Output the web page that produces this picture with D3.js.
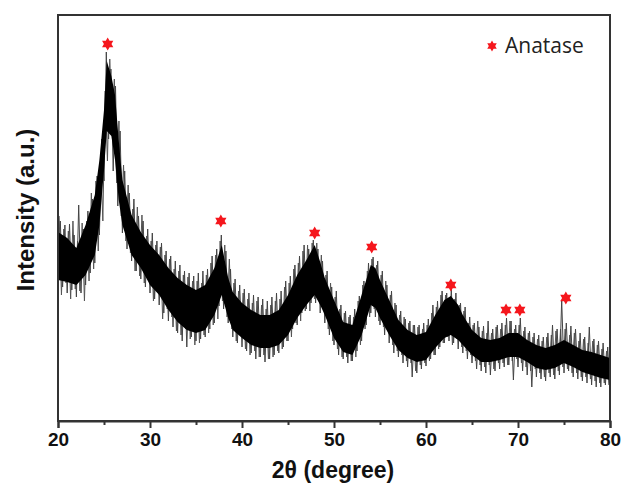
<!DOCTYPE html>
<html>
<head>
<meta charset="utf-8">
<script src="https://cdn.jsdelivr.net/npm/d3@7"></script>
<style>
    body { margin: 0; background: #fff; }
    svg text { font-family: "Liberation Sans", Arial, sans-serif; }
</style>
</head>
<body>
<div id="xrd-chart"></div>
<script>
// Dense core of the noisy trace: 2theta, upper and lower edge (a.u.)
const core_theta = [20, 21, 22, 23, 24, 24.5, 25, 25.3, 25.8, 26.2, 26.6, 27, 28, 29, 30, 31, 32, 33, 34, 35,
    36, 37, 37.8, 38.5, 39, 40, 41, 42, 43, 44, 45, 46, 47, 47.9, 48.5, 49, 50, 51, 52, 53,
    54, 54.5, 55, 56, 57, 58, 59, 60, 61, 62, 62.7, 63.5, 64, 65, 66, 67, 68, 69, 70, 71,
    72, 73, 74, 75, 76, 77, 78, 79, 80];
const core_high = [189, 183, 173, 196, 226, 261, 311, 360, 345, 326, 281, 241, 206, 189, 176, 166, 153, 143, 136, 131,
    136, 153, 176, 143, 129, 118, 111, 106, 106, 111, 126, 146, 161, 176, 159, 143, 121, 99, 96, 126,
    156, 153, 141, 121, 101, 91, 86, 89, 106, 121, 125, 116, 106, 91, 83, 81, 83, 88, 88, 81,
    76, 73, 76, 81, 76, 71, 69, 66, 63];
const core_low = [141, 139, 136, 146, 166, 196, 251, 290, 285, 261, 221, 196, 166, 153, 136, 126, 111, 99, 91, 88,
    91, 106, 126, 103, 91, 83, 76, 73, 73, 76, 86, 103, 116, 126, 116, 106, 83, 69, 66, 86,
    116, 113, 103, 86, 71, 63, 59, 61, 73, 83, 86, 81, 76, 66, 59, 59, 61, 64, 64, 59,
    53, 51, 53, 58, 54, 49, 46, 43, 41];

// Spike extremes every 0.25 degree from 20 to 80 (low, high, low, high per degree)
const spike_start = 20, spike_step = 0.25;
const spike_values = [
    130, 200, 134, 196,  128, 197, 131, 186,  124, 216, 128, 192,  136, 210, 148, 222,  158, 245, 186, 282,
    240, 369, 282, 352,  250, 335, 215, 290,  188, 250, 172, 228,  160, 222, 150, 205,  142, 200, 134, 192,
    128, 188, 122, 180,  116, 178, 108, 170,  100, 165, 94, 160,   88, 156, 80, 150,    74, 148, 84, 145,
    80, 148, 82, 150,    84, 152, 92, 165,    98, 172, 115, 186,   112, 170, 98, 152,   84, 142, 78, 136,
    74, 132, 70, 128,    68, 126, 62, 124,    64, 122, 59, 120,    62, 124, 66, 128,    68, 130, 74, 140,
    80, 145, 92, 156,    96, 165, 108, 176,   112, 172, 118, 181,  118, 172, 108, 160,  98, 150, 86, 134,
    76, 130, 66, 116,    62, 110, 58, 106,    60, 112, 70, 125,    80, 140, 96, 158,    108, 164, 104, 160,
    96, 150, 86, 136,    78, 130, 68, 116,    64, 110, 58, 102,    54, 100, 44, 96,     48, 96, 52, 98,
    55, 102, 62, 116,    66, 120, 74, 130,    78, 128, 80, 132,    78, 128, 72, 118,    68, 114, 62, 104,
    58, 98, 52, 94,      50, 95, 48, 100,     46, 92, 50, 96,      52, 98, 54, 103,     56, 100, 41, 96,
    54, 103, 50, 94,     46, 90, 34, 88,      44, 86, 42, 84,      40, 88, 44, 96,      42, 92, 46, 121,
    48, 98, 50, 95,      44, 92, 42, 88,      40, 84, 38, 94,      36, 82, 34, 80,      34, 78, 36, 74,
    34
];

// Second set of spikes, read between the first ones (from 20.125, high, low, high, low per degree)
const spike_b_start = 20.125;
const spike_b_values = [
    205, 126, 192, 138,  190, 122, 200, 132,  180, 130, 198, 120,  200, 140, 228, 152,  240, 170, 266, 200,
    330, 260, 362, 300,  342, 238, 300, 205,  256, 180, 236, 168,  212, 150, 214, 145,  206, 138, 185, 140,
    180, 120, 176, 130,  174, 102, 166, 112,  162, 104, 152, 90,   150, 86, 146, 92,    144, 82, 140, 76,
    140, 78, 138, 86,    146, 88, 158, 96,    166, 102, 180, 120,  176, 104, 162, 92,   138, 80, 130, 86,
    128, 72, 122, 66,    118, 70, 120, 64,    116, 66, 112, 62,    116, 64, 120, 70,    122, 72, 134, 80,
    138, 84, 152, 98,    158, 100, 170, 110,  176, 110, 178, 122,  178, 122, 166, 110,  146, 92, 138, 80,
    124, 72, 112, 64,    108, 64, 104, 60,    104, 64, 120, 76,    136, 92, 150, 104,   162, 112, 156, 100,
    146, 94, 140, 90,    126, 76, 118, 70,    106, 66, 104, 60,    98, 58, 96, 50,      94, 56, 92, 58,
    96, 60, 108, 66,     114, 72, 126, 78,    126, 84, 124, 76,    122, 82, 116, 74,    110, 70, 98, 66,
    96, 60, 100, 56,     90, 54, 88, 56,      88, 52, 94, 58,      92, 58, 96, 56,      100, 60, 92, 62,
    96, 58, 90, 54,      88, 50, 84, 52,      82, 48, 80, 44,      84, 48, 86, 46,      90, 50, 92, 54,
    92, 52, 86, 48,      88, 48, 80, 44,      82, 44, 78, 42,      80, 40, 76, 38,      72, 38, 70, 36
];

// Anatase reflections marked with stars
const star_theta = [25.4, 37.7, 47.9, 54.1, 62.7, 68.7, 70.2, 75.2];
const star_intensity = [377, 200, 188, 174, 136, 111, 111, 123];

const x_ticks = [20, 30, 40, 50, 60, 70, 80];
const x_minor_ticks = [25, 35, 45, 55, 65, 75];
const legend_label = 'Anatase';

const attributes = {
    width: 622,
    height: 485,
    margin: { top: 15, right: 12, bottom: 64, left: 58 }
};

const star_red = '#f5161c';

function hexagram(r) {
    // six pointed star as a closed polygon
    const pts = [];
    for (let k = 0; k < 12; k++) {
        const a = -Math.PI / 2 + k * Math.PI / 6;
        const rr = (k % 2 === 0) ? r : r * 0.58;
        pts.push([rr * Math.cos(a), rr * Math.sin(a)]);
    }
    return 'M' + pts.map(p => p[0].toFixed(2) + ',' + p[1].toFixed(2)).join('L') + 'Z';
}

function drawChart() {
    const m = attributes.margin;
    const svg = d3.select('#xrd-chart').append('svg')
        .attr('width', attributes.width)
        .attr('height', attributes.height);

    const x = d3.scaleLinear().domain([20, 80]).range([m.left, attributes.width - m.right]);
    const y = d3.scaleLinear().domain([0, 406]).range([attributes.height - m.bottom, m.top]);

    svg.append('clipPath').attr('id', 'plot-clip')
        .append('rect')
        .attr('x', m.left).attr('y', m.top)
        .attr('width', attributes.width - m.left - m.right)
        .attr('height', attributes.height - m.top - m.bottom);

    const plot = svg.append('g').attr('clip-path', 'url(#plot-clip)');

    // spikes first, the solid core goes on top
    plot.append('path')
        .datum(spike_b_values)
        .attr('d', d3.line()
            .x((d, i) => x(spike_b_start + i * spike_step))
            .y(d => y(d)))
        .attr('fill', 'none')
        .attr('stroke', '#555')
        .attr('stroke-width', 1);

    plot.append('path')
        .datum(spike_values)
        .attr('d', d3.line()
            .x((d, i) => x(spike_start + i * spike_step))
            .y(d => y(d)))
        .attr('fill', 'none')
        .attr('stroke', '#444')
        .attr('stroke-width', 1);

    const core_area = d3.area()
        .x((d, i) => x(core_theta[i]))
        .y0((d, i) => y(core_low[i]))
        .y1(d => y(d));
    plot.append('path')
        .datum(core_high)
        .attr('d', core_area)
        .attr('fill', '#000');

    // stars
    svg.append('g')
        .selectAll('path')
        .data(star_theta)
        .join('path')
        .attr('transform', (d, i) => 'translate(' + x(d) + ',' + y(star_intensity[i]) + ')')
        .attr('d', hexagram(6.5))
        .attr('fill', star_red);

    // frame
    svg.append('rect')
        .attr('x', m.left).attr('y', m.top)
        .attr('width', attributes.width - m.left - m.right)
        .attr('height', attributes.height - m.top - m.bottom)
        .attr('fill', 'none')
        .attr('stroke', '#333')
        .attr('stroke-width', 2);

    // x axis
    const x_axis = svg.append('g')
        .attr('class', 'x axis')
        .attr('transform', 'translate(0,' + (attributes.height - m.bottom) + ')')
        .call(d3.axisBottom(x).tickValues(x_ticks).tickSize(7).tickPadding(5).tickFormat(d3.format('d')));
    x_axis.select('.domain').attr('stroke', '#333').attr('stroke-width', 2);
    x_axis.selectAll('.tick line').attr('stroke', '#333').attr('stroke-width', 2);
    x_axis.selectAll('text')
        .attr('fill', '#111')
        .style('font-size', '19px')
        .style('font-weight', 'bold');

    svg.append('g')
        .attr('transform', 'translate(0,' + (attributes.height - m.bottom) + ')')
        .call(d3.axisBottom(x).tickValues(x_minor_ticks).tickSize(4).tickFormat(''))
        .call(g => g.select('.domain').remove())
        .selectAll('.tick line').attr('stroke', '#333').attr('stroke-width', 2);

    svg.append('text')
        .attr('x', 333)
        .attr('y', 478)
        .attr('text-anchor', 'middle')
        .style('font-size', '23px')
        .style('font-weight', 'bold')
        .attr('fill', '#111')
        .text('2θ (degree)');

    svg.append('text')
        .attr('transform', 'translate(34,' + 210 + ') rotate(-90)')
        .attr('text-anchor', 'middle')
        .style('font-size', '24px')
        .style('font-weight', 'bold')
        .attr('fill', '#111')
        .text('Intensity (a.u.)');

    // legend
    svg.append('path')
        .attr('transform', 'translate(492,46)')
        .attr('d', hexagram(5.5))
        .attr('fill', star_red);
    svg.append('text')
        .attr('x', 505)
        .attr('y', 53)
        .style('font-family', '"Open Sans", "Noto Sans", sans-serif')
        .style('font-size', '21px')
        .attr('fill', '#222')
        .text(legend_label);
}

window.onload = drawChart;
</script>
</body>
</html>
